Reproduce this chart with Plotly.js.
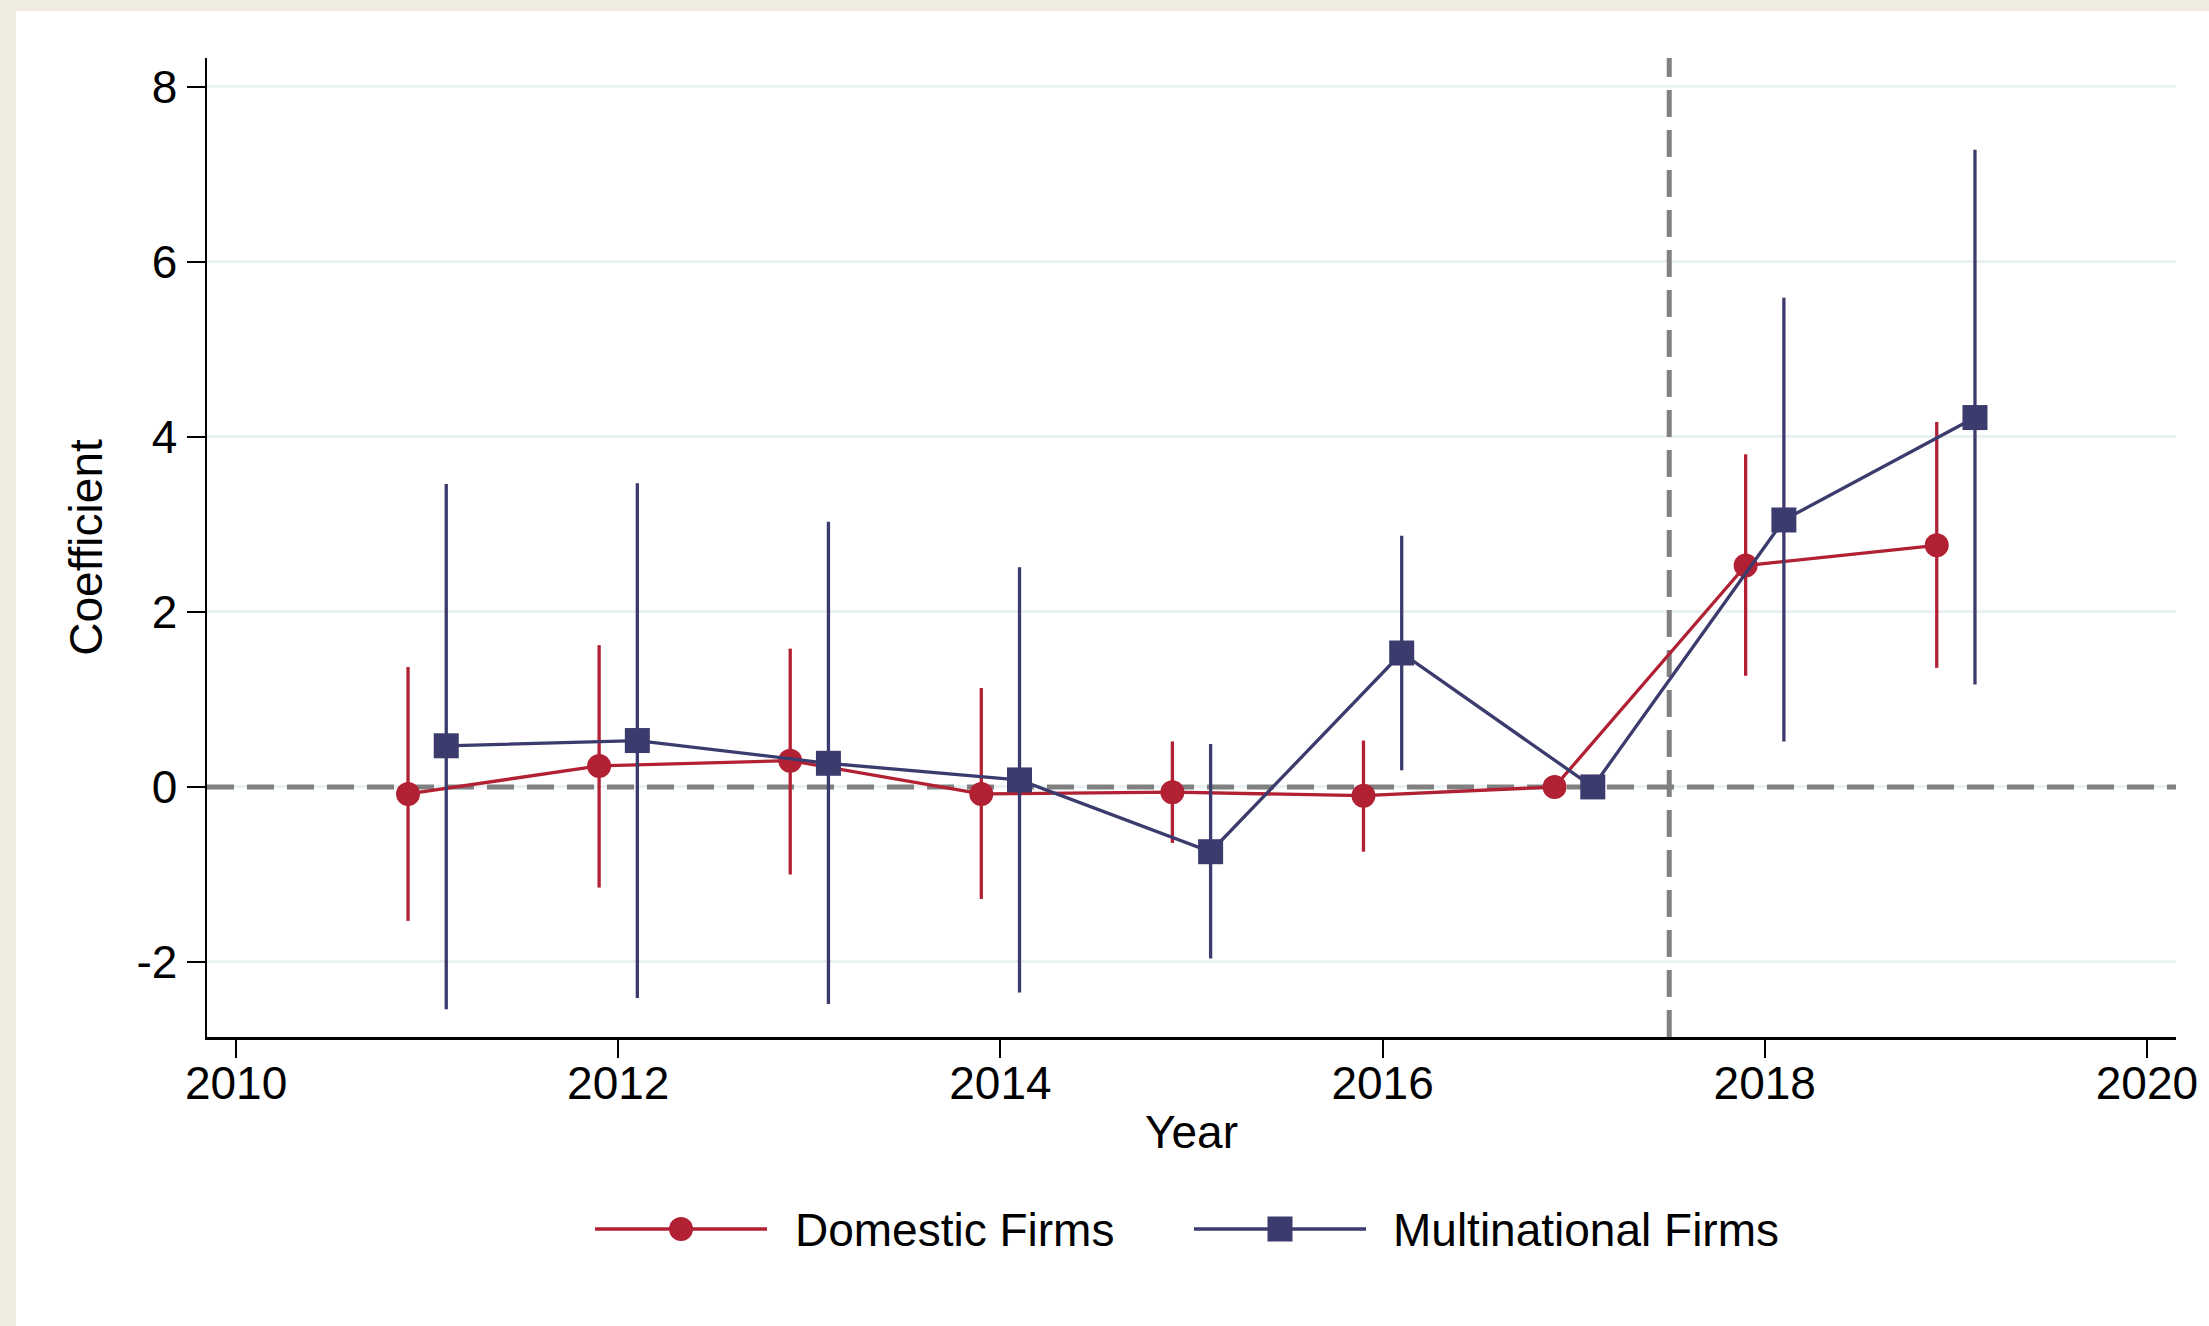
<!DOCTYPE html>
<html>
<head>
<meta charset="utf-8">
<script src="https://cdn.plot.ly/plotly-3.0.1.min.js"></script>
<style>
  html, body { margin: 0; padding: 0; background: #EFEBE1; }
  #chart { width: 2209px; height: 1326px; }
</style>
</head>
<body>
<div id="chart"></div>
<script>
// Event-study coefficients with 95% confidence intervals
const years = [2011, 2012, 2013, 2014, 2015, 2016, 2017, 2018, 2019];

const domesticCoef  = [-0.08, 0.24, 0.30, -0.08, -0.06, -0.10, 0.00, 2.53, 2.76];
const domesticLower = [-1.53, -1.15, -1.00, -1.28, -0.64, -0.74, 0.00, 1.27, 1.36];
const domesticUpper = [1.37, 1.62, 1.58, 1.13, 0.52, 0.53, 0.00, 3.80, 4.17];

const multiCoef  = [0.47, 0.53, 0.27, 0.08, -0.74, 1.53, 0.00, 3.05, 4.22];
const multiLower = [-2.54, -2.41, -2.48, -2.35, -1.96, 0.19, 0.00, 0.52, 1.17];
const multiUpper = [3.46, 3.47, 3.03, 2.51, 0.49, 2.87, 0.00, 5.59, 7.28];

// Horizontal offset so the two series do not overlap
const shift = 0.1;

const xTickVals = [2010, 2012, 2014, 2016, 2018, 2020];
const xTickText = ['2010', '2012', '2014', '2016', '2018', '2020'];
const yTickVals = [-2, 0, 2, 4, 6, 8];
const yTickText = ['-2', '0', '2', '4', '6', '8'];

const xRange = [2009.848, 2020.152];
const yRange = [-2.857, 8.328];

const seriesNames = ['Domestic Firms', 'Multinational Firms'];
const treatmentYear = 2017.5;

const RED = '#B22034';
const NAVY = '#3B3B6E';
const FONT = 'Liberation Sans, Arial, sans-serif';
const FS = 46;

// Figure geometry (pixels)
const W = 2209, H = 1326;
const M = { l: 207, r: 33, t: 58, b: 289 };
const plotW = W - M.l - M.r, plotH = H - M.t - M.b;
const px2x = p => (p - M.l) / plotW;
const px2y = p => (H - M.b - p) / plotH;

function errTrace(name, xs, coef, lo, hi, color, symbol, size) {
  return {
    type: 'scatter',
    mode: 'lines+markers',
    name: name,
    x: xs,
    y: coef,
    line: { color: color, width: 3.3 },
    marker: { color: color, symbol: symbol, size: size, line: { width: 0 } },
    error_y: {
      type: 'data',
      symmetric: false,
      array: hi.map((v, i) => v - coef[i]),
      arrayminus: lo.map((v, i) => coef[i] - v),
      color: color,
      thickness: 3.3,
      width: 0
    },
    showlegend: false,
    cliponaxis: false
  };
}

const traces = [
  errTrace(seriesNames[0], years.map(y => y - shift), domesticCoef, domesticLower, domesticUpper, RED, 'circle', 24),
  errTrace(seriesNames[1], years.map(y => y + shift), multiCoef, multiLower, multiUpper, NAVY, 'square', 25)
];

// Legend row drawn under the plot
const legendY = 1229;
const legendItems = [
  { name: seriesNames[0], color: RED, type: 'circle', x0: 595, x1: 767, mx: 681, tx: 793, s: 24 },
  { name: seriesNames[1], color: NAVY, type: 'rect', x0: 1194, x1: 1366, mx: 1280, tx: 1391, s: 25 }
];

const refLine = { color: '#808080', width: 5, dash: '27px,13px' };

const shapes = [
  // white panel over the beige frame
  { type: 'rect', xref: 'paper', yref: 'paper', layer: 'below',
    x0: px2x(16), x1: px2x(W + 5), y0: px2y(H + 5), y1: px2y(11),
    fillcolor: 'white', line: { width: 0 } },
  // reference line at zero
  { type: 'line', xref: 'x', yref: 'y', layer: 'between',
    x0: xRange[0], x1: xRange[1], y0: 0, y1: 0, line: refLine },
  // treatment year marker
  { type: 'line', xref: 'x', yref: 'y', layer: 'between',
    x0: treatmentYear, x1: treatmentYear, y0: yRange[0], y1: yRange[1], line: refLine }
];

const annotations = [];
legendItems.forEach(it => {
  shapes.push({ type: 'line', xref: 'paper', yref: 'paper',
    x0: px2x(it.x0), x1: px2x(it.x1), y0: px2y(legendY), y1: px2y(legendY),
    line: { color: it.color, width: 3.3 } });
  shapes.push({ type: it.type, xref: 'paper', yref: 'paper',
    xsizemode: 'pixel', ysizemode: 'pixel',
    xanchor: px2x(it.mx), yanchor: px2y(legendY),
    x0: -it.s / 2, x1: it.s / 2, y0: -it.s / 2, y1: it.s / 2,
    fillcolor: it.color, line: { width: 0 } });
  annotations.push({ xref: 'paper', yref: 'paper',
    x: px2x(it.tx), y: px2y(legendY + 1), xanchor: 'left', yanchor: 'middle',
    text: it.name, showarrow: false,
    font: { family: FONT, size: FS, color: 'black' } });
});

const layout = {
  width: W, height: H,
  margin: M,
  paper_bgcolor: '#EFEBE1',
  plot_bgcolor: 'white',
  font: { family: FONT, size: FS, color: 'black' },
  showlegend: false,
  xaxis: {
    range: xRange,
    tickvals: xTickVals, ticktext: xTickText,
    ticks: 'outside', ticklen: 18, tickwidth: 2, tickcolor: 'black',
    ticklabelstandoff: -14,
    showline: true, linecolor: 'black', linewidth: 2.5,
    showgrid: false, zeroline: false,
    tickfont: { family: FONT, size: FS, color: 'black' },
    title: { text: 'Year', font: { family: FONT, size: FS, color: 'black' }, standoff: 8 }
  },
  yaxis: {
    range: yRange,
    tickvals: yTickVals, ticktext: yTickText,
    ticks: 'outside', ticklen: 18, tickwidth: 2, tickcolor: 'black',
    showline: true, linecolor: 'black', linewidth: 2.5,
    showgrid: true, gridcolor: '#EAF1F2', gridwidth: 3,
    zeroline: false,
    tickfont: { family: FONT, size: FS, color: 'black' },
    title: { text: 'Coefficient', font: { family: FONT, size: FS, color: 'black' }, standoff: 20 }
  },
  shapes: shapes,
  annotations: annotations
};

Plotly.newPlot('chart', traces, layout, { displayModeBar: false, staticPlot: true });
</script>
</body>
</html>
